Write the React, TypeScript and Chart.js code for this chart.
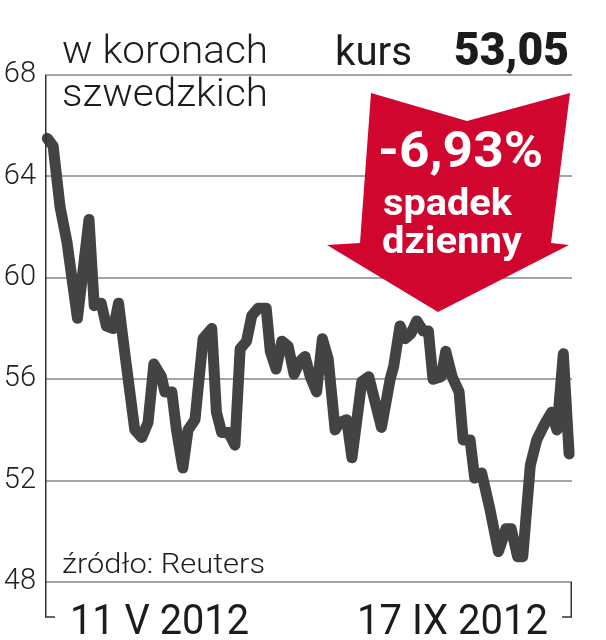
import React, { useEffect, useRef } from "react";
import { Chart, registerables } from "chart.js";

Chart.register(...registerables);

// trading-day position (0 = 11 V 2012) and closing price in SEK
const days = [
  0.4, 1.4, 2.6, 3.8, 5.6, 7.6, 8.5, 9.7, 10.6, 11.8,
  12.7, 13.8, 15.5, 16.7, 17.8, 18.8, 20.1, 20.7, 21.9, 22.7,
  23.8, 24.7, 25.9, 27.3, 28.8, 29.6, 30.5, 31.7, 32.8, 33.7,
  34.8, 35.7, 36.8, 38.2, 38.9, 39.9, 40.9, 42.0, 43.0, 44.0,
  44.9, 45.8, 46.9, 47.9, 48.9, 50.1, 50.9, 52.1, 53.0, 54.7,
  55.9, 58.1, 59.6, 60.2, 61.3, 62.2, 63.2, 64.2, 65.3, 66.2,
  67.0, 68.4, 69.2, 70.3, 71.5, 72.2, 73.4, 74.2, 75.4, 76.8,
  78.3, 79.6, 80.5, 81.6, 82.5, 83.8, 84.9, 86.2, 87.5, 88.4,
  89.5, 90.5,
];
const kurs = [
  65.5, 65.2, 62.8, 61.4, 58.4, 62.3, 58.9, 59.0, 58.1, 58.0,
  59.0, 57.0, 54.0, 53.7, 54.3, 56.6, 56.1, 55.5, 55.5, 54.0,
  52.5, 54.0, 54.4, 57.6, 58.0, 54.7, 53.9, 53.9, 53.4, 57.2,
  57.5, 58.5, 58.8, 58.8, 57.1, 56.4, 57.5, 57.3, 56.2, 56.7,
  56.9, 56.1, 55.5, 57.6, 56.8, 54.0, 54.3, 54.4, 52.9, 55.9,
  56.1, 54.1, 56.0, 56.5, 58.1, 57.6, 57.8, 58.3, 57.9, 57.9,
  56.0, 56.1, 57.1, 56.1, 55.5, 53.6, 53.6, 52.1, 52.3, 50.9,
  49.2, 50.1, 50.1, 49.0, 49.0, 52.6, 53.6, 54.2, 54.7, 54.0,
  57.0, 53.05,
];
const yTicks = [48, 52, 56, 60, 64, 68];
const xLabels = ["11 V 2012", "17 IX 2012"];
const unitLines = ["w koronach", "szwedzkich"];
const kursLabel = "kurs";
const kursValue = "53,05";
const changeLines = ["-6,93%", "spadek", "dzienny"];
const sourceLabel = "źródło: Reuters";

const FONT = "Roboto, 'DejaVu Sans', sans-serif";

function fitText(
  ctx: CanvasRenderingContext2D,
  text: string,
  x: number,
  baseline: number,
  width: number,
  font: string,
  color: string
) {
  ctx.save();
  ctx.font = font;
  ctx.fillStyle = color;
  ctx.textAlign = "left";
  ctx.textBaseline = "alphabetic";
  const w = ctx.measureText(text).width;
  ctx.translate(x, baseline);
  ctx.scale(width / w, 1);
  ctx.fillText(text, 0, 0);
  ctx.restore();
}

const decorPlugin = {
  id: "decor",
  beforeDatasetsDraw(chart: any) {
    const ctx: CanvasRenderingContext2D = chart.ctx;
    // red arrow
    ctx.save();
    ctx.fillStyle = "#d0062f";
    ctx.beginPath();
    ctx.moveTo(371, 93);
    ctx.lineTo(467, 121);
    ctx.lineTo(570, 93);
    ctx.lineTo(551, 243);
    ctx.lineTo(569, 245);
    ctx.lineTo(438, 312);
    ctx.lineTo(327, 245);
    ctx.lineTo(360, 243);
    ctx.closePath();
    ctx.fill();
    ctx.restore();
    fitText(ctx, changeLines[0], 378, 167, 165, `bold 50px ${FONT}`, "#ffffff");
    fitText(ctx, changeLines[1], 383, 215, 129, `bold 36px ${FONT}`, "#ffffff");
    fitText(ctx, changeLines[2], 382, 253, 140, `bold 36px ${FONT}`, "#ffffff");
  },
  afterDraw(chart: any) {
    const ctx: CanvasRenderingContext2D = chart.ctx;
    const { left, right, top, bottom } = chart.chartArea;
    // axis bracket
    ctx.save();
    ctx.strokeStyle = "#333333";
    ctx.lineWidth = 1.5;
    ctx.beginPath();
    ctx.moveTo(left + 0.75, top);
    ctx.lineTo(left + 0.75, 617);
    ctx.lineTo(left + 10, 617);
    ctx.moveTo(right - 0.75, bottom);
    ctx.lineTo(right - 0.75, 617);
    ctx.lineTo(right - 10, 617);
    ctx.stroke();
    ctx.restore();

    fitText(ctx, unitLines[0], 62, 63, 206, `300 39px ${FONT}`, "#1c1c1c");
    fitText(ctx, unitLines[1], 62, 106, 206, `300 39px ${FONT}`, "#1c1c1c");
    fitText(ctx, kursLabel, 335, 65, 77, `400 41px ${FONT}`, "#1c1c1c");
    fitText(ctx, kursValue, 454, 65, 115, `900 46px ${FONT}`, "#1c1c1c");
    fitText(ctx, sourceLabel, 62, 573, 203, `300 28px ${FONT}`, "#1c1c1c");
    fitText(ctx, xLabels[0], 70, 634, 179, `400 42px ${FONT}`, "#1c1c1c");
    fitText(ctx, xLabels[1], 357, 634, 191, `400 42px ${FONT}`, "#1c1c1c");
  },
};

export default function App() {
  const ref = useRef<HTMLCanvasElement | null>(null);

  useEffect(() => {
    if (!ref.current) return;
    const chart = new Chart(ref.current, {
      type: "line",
      data: {
        datasets: [
          {
            data: days.map((d, i) => ({ x: d, y: kurs[i] })),
            borderColor: "#434343",
            borderWidth: 11,
            pointRadius: 0,
            tension: 0,
            borderJoinStyle: "round",
            borderCapStyle: "round",
            clip: false as any,
          },
        ],
      },
      options: {
        animation: false,
        responsive: false,
        devicePixelRatio: 1,
        layout: { padding: { top: 75, right: 34, bottom: 58, left: 0 } },
        plugins: { legend: { display: false }, tooltip: { enabled: false } },
        scales: {
          x: { type: "linear", min: 0, max: 91, display: false },
          y: {
            min: 48,
            max: 68,
            afterFit: (s: any) => {
              s.width = 45;
            },
            afterBuildTicks: (s: any) => {
              s.ticks = yTicks.map((v) => ({ value: v }));
            },
            border: { display: false },
            grid: { color: "#a5a5a5", lineWidth: 2, drawTicks: false },
            ticks: {
              padding: 9,
              color: "#222222",
              font: { family: FONT, size: 29, weight: "300" as any },
            },
          },
        },
      },
      plugins: [decorPlugin],
    });
    return () => chart.destroy();
  }, []);

  return (
    <div style={{ position: "absolute", left: 0, top: 0, width: 606, height: 640, background: "#fff" }}>
      <canvas ref={ref} width={606} height={640} style={{ width: 606, height: 640 }} />
    </div>
  );
}
